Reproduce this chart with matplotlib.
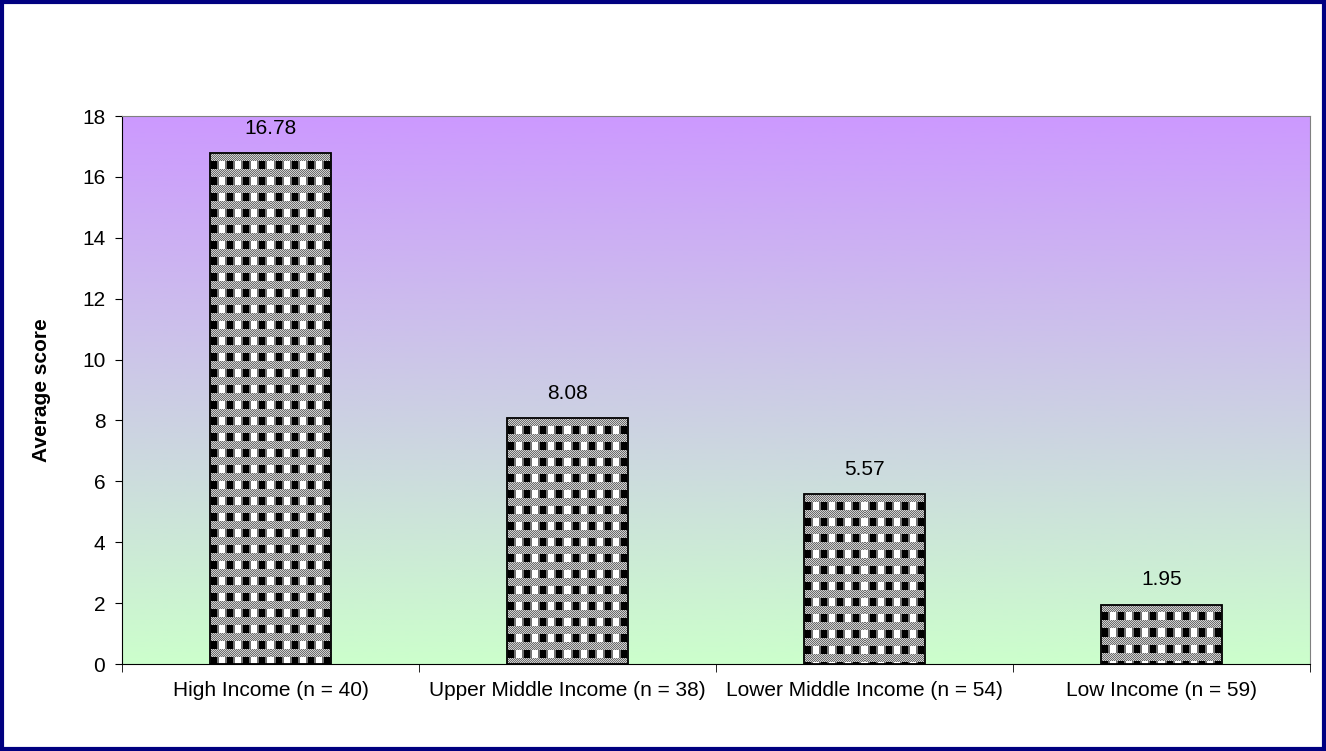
import matplotlib
matplotlib.use('Agg')
import matplotlib.pyplot as plt
import numpy as np
from matplotlib.patches import Rectangle

plt.rcParams['font.family'] = ['Liberation Sans', 'DejaVu Sans']
plt.rcParams['font.size'] = 15

categories = ['High Income (n = 40)', 'Upper Middle Income (n = 38)',
              'Lower Middle Income (n = 54)', 'Low Income (n = 59)']
scores = [16.78, 8.08, 5.57, 1.95]
labels = ['16.78', '8.08', '5.57', '1.95']
yticks = [0, 2, 4, 6, 8, 10, 12, 14, 16, 18]

W, H, DPI = 1326, 751, 100
fig = plt.figure(figsize=(W / DPI, H / DPI), dpi=DPI)
ax = fig.add_axes([122 / W, 1 - 664 / H, (1310 - 122) / W, (664 - 116) / H])

x = np.arange(len(categories))
ax.set_xlim(-0.5, len(categories) - 0.5)
ax.set_ylim(0, 18)

# background gradient purple -> green
top = np.array([204, 153, 255]) / 255
bot = np.array([204, 255, 204]) / 255
t = np.linspace(0, 1, 256)[:, None]
grad = (top * (1 - t) + bot * t)[:, None, :]
ax.imshow(grad, extent=[-0.5, len(categories) - 0.5, 0, 18], aspect='auto',
          zorder=0, interpolation='bilinear')

# plaid tile (16x16 px): grey checker band, then black/white squares
tile = np.ones((16, 16, 3))
for r in range(16):
    for c in range(16):
        if r < 8:
            v = 0.42 if (r + c) % 2 == 0 else 0.82
        else:
            v = 0.0 if c < 8 else 1.0
            if c in (0, 7, 8, 15):
                v = 0.45
        tile[r, c] = v

bars = ax.bar(x, scores, width=0.405, color='none', edgecolor='black',
              linewidth=1.3, zorder=3)

px_per_x = (1310 - 122) / len(categories)
px_per_y = (664 - 116) / 18
for b, v in zip(bars, scores):
    wpx = int(round(b.get_width() * px_per_x))
    hpx = int(round(v * px_per_y))
    img = np.tile(tile, (hpx // 16 + 2, wpx // 16 + 2, 1))[:hpx, :wpx]
    im = ax.imshow(img, extent=[b.get_x(), b.get_x() + b.get_width(), 0, v],
                   aspect='auto', interpolation='nearest', zorder=2)
    im.set_clip_path(b)

for xi, v, s in zip(x, scores, labels):
    ax.text(xi, v + 0.5, s, ha='center', va='bottom', fontsize=15)

ax.set_yticks(yticks)
ax.set_xticks(x)
ax.set_xticklabels(categories)
ax.set_xticks(np.arange(-0.5, len(categories)), minor=True)
ax.tick_params(axis='x', which='major', length=0, pad=12)
ax.tick_params(axis='x', which='minor', length=6, direction='out', color='black')
ax.tick_params(axis='y', length=5, direction='out', pad=7)
ax.set_ylabel('Average score', fontweight='bold', fontsize=15, labelpad=22)

ax.spines['top'].set_color('#808080')
ax.spines['right'].set_color('#808080')
ax.spines['left'].set_color('black')
ax.spines['bottom'].set_color('black')

# navy frame around the figure
fig.patches.append(Rectangle((0.0015, 0.002), 0.997, 0.995, transform=fig.transFigure,
                             fill=False, edgecolor='#000080', linewidth=3))

fig.savefig('out.png', dpi=DPI)
